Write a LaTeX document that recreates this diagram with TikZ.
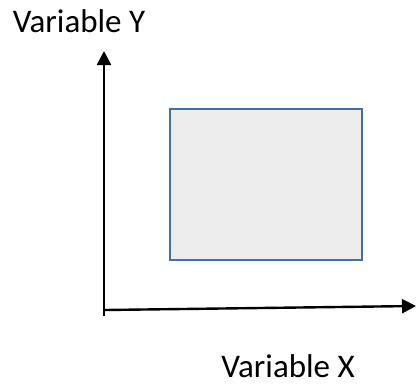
\documentclass[tikz,border=0pt]{standalone}
\usepackage{fontspec}
\setmainfont{Carlito}
\usetikzlibrary{arrows.meta}
\definecolor{boxedge}{HTML}{41719C}
\definecolor{boxfill}{HTML}{EDEDED}
\tikzset{
  axis/.style={line width=2.4pt, -{Triangle[length=14pt,width=14pt]}},
  lbl/.style={font=\fontsize{33}{36}\selectfont, anchor=base, inner sep=0pt},
  region/.style={draw=boxedge, fill=boxfill, line width=2pt, minimum width=192pt, minimum height=151pt, inner sep=0pt}
}
\begin{document}
\begin{tikzpicture}[x=1pt,y=-1pt]
\useasboundingbox (0,0) rectangle (416,384);
\coordinate (ybot) at (104,316);
\coordinate (ytop) at (104,51);
\coordinate (xleft) at (105,310);
\coordinate (xright) at (416,306);
\draw[axis] (ybot) -- (ytop);
\draw[axis] (xleft) -- (xright);
\node[region] (box) at (266,184.5) {};
\node[lbl] (ylabel) at (79,32) {Variable Y};
\node[lbl] (xlabel) at (288,377) {Variable X};
\end{tikzpicture}
\end{document}
